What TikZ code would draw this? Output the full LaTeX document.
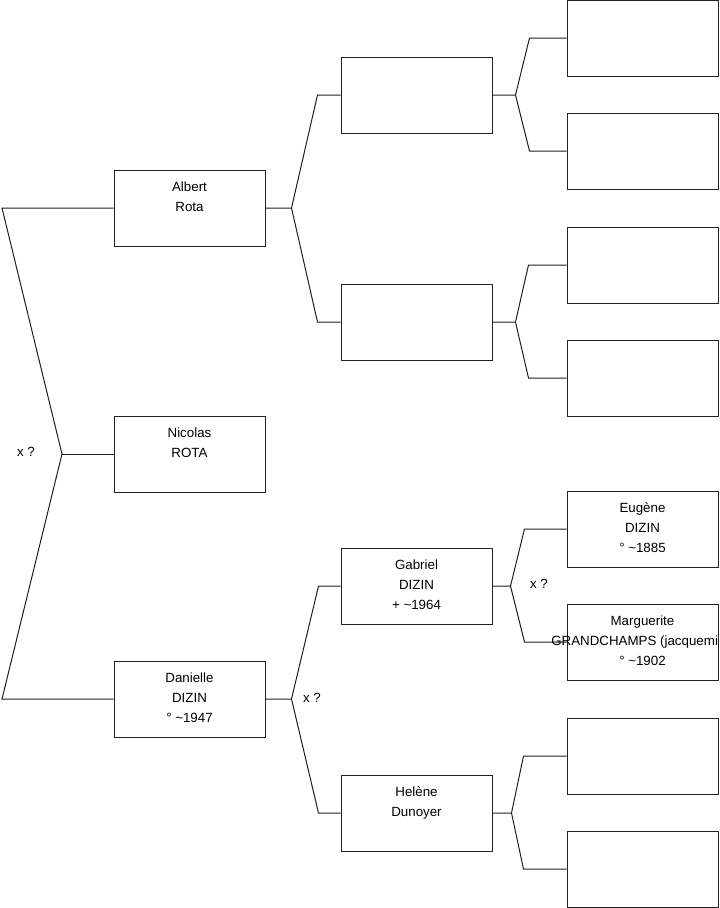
\documentclass[tikz,border=0pt]{standalone}
\usepackage{fontspec}
\setmainfont{Liberation Sans}
\usepackage{xcolor}
\usepackage{tikz}
\usetikzlibrary{calc,backgrounds}
\definecolor{cLine}{RGB}{30,30,30}
\definecolor{cBox}{RGB}{35,35,35}
\newcommand{\persontext}[1]{\parbox[t][57pt][t]{113.25pt}{\centering\rule{0pt}{16.3pt}#1}}
\tikzset{
  person/.style={draw=cBox,line width=0.75pt,inner sep=0pt,fill=white,font=\fontsize{10}{15}\selectfont},
  link/.style={draw=cLine,line width=0.75pt},
  union/.style={inner sep=0pt,font=\fontsize{10}{15}\selectfont}
}

\begin{document}
\begin{tikzpicture}[x=0.75pt,y=-0.75pt]
  \useasboundingbox (0,0) rectangle (719,908);
  % generation 1
  \node[person] (albert) at (189.5,208) {\persontext{Albert\\Rota}};
  \node[person] (nicolas) at (189.5,454) {\persontext{Nicolas\\ROTA}};
  \node[person] (danielle) at (189.5,699) {\persontext{Danielle\\DIZIN\\° \textasciitilde1947}};
  % generation 2
  \node[person] (p1) at (416.5,95) {\persontext{}};
  \node[person] (p2) at (416.5,322) {\persontext{}};
  \node[person] (gabriel) at (416.5,586) {\persontext{Gabriel\\DIZIN\\+ \textasciitilde1964}};
  \node[person] (helene) at (416.5,813) {\persontext{Helène\\Dunoyer}};
  % generation 3
  \foreach \n/\y in {g1/38,g2/151,g3/265,g4/378,g7/756,g8/869}
    \node[person] (\n) at (642.5,\y) {\persontext{}};
  \node[person] (eugene) at (642.5,529) {\persontext{Eugène\\DIZIN\\° \textasciitilde1885}};
  \node[person] (marguerite) at (642.5,642) {\persontext{Marguerite\\\makebox[\linewidth][r]{GRANDCHAMPS (jacquemi}\\° \textasciitilde1902}};
  % unions
  \node[union] (lx0) at (26,452) {x ?};
  \node[union] (lx1) at (312,698) {x ?};
  \node[union] (lx2) at (539,584) {x ?};
  % connectors
  \coordinate (rootj) at (62,454);
  \coordinate (ra) at (2,208);
  \coordinate (rb) at (2,699);
  \begin{scope}[on background layer]
    \draw[link] (albert.west) -- (ra) -- (rootj) -- (rb) -- (danielle.west);
    \draw[link] (rootj) -- (nicolas.west);
    \foreach \pa/\up/\dn/\jx/\bx in {albert/p1/p2/26/23, p1/g1/g2/23/37, p2/g3/g4/23/38,
        danielle/gabriel/helene/26/22, gabriel/eugene/marguerite/18/42, helene/g7/g8/19/43}
      \draw[link] (\up.west) -- ++(-\bx,0) -- ($(\pa.east)+(\jx,0)$) -- ($(\dn.west)+(-\bx,0)$) -- (\dn.west)
        ($(\pa.east)+(\jx,0)$) -- (\pa.east);
  \end{scope}
\end{tikzpicture}
\end{document}
